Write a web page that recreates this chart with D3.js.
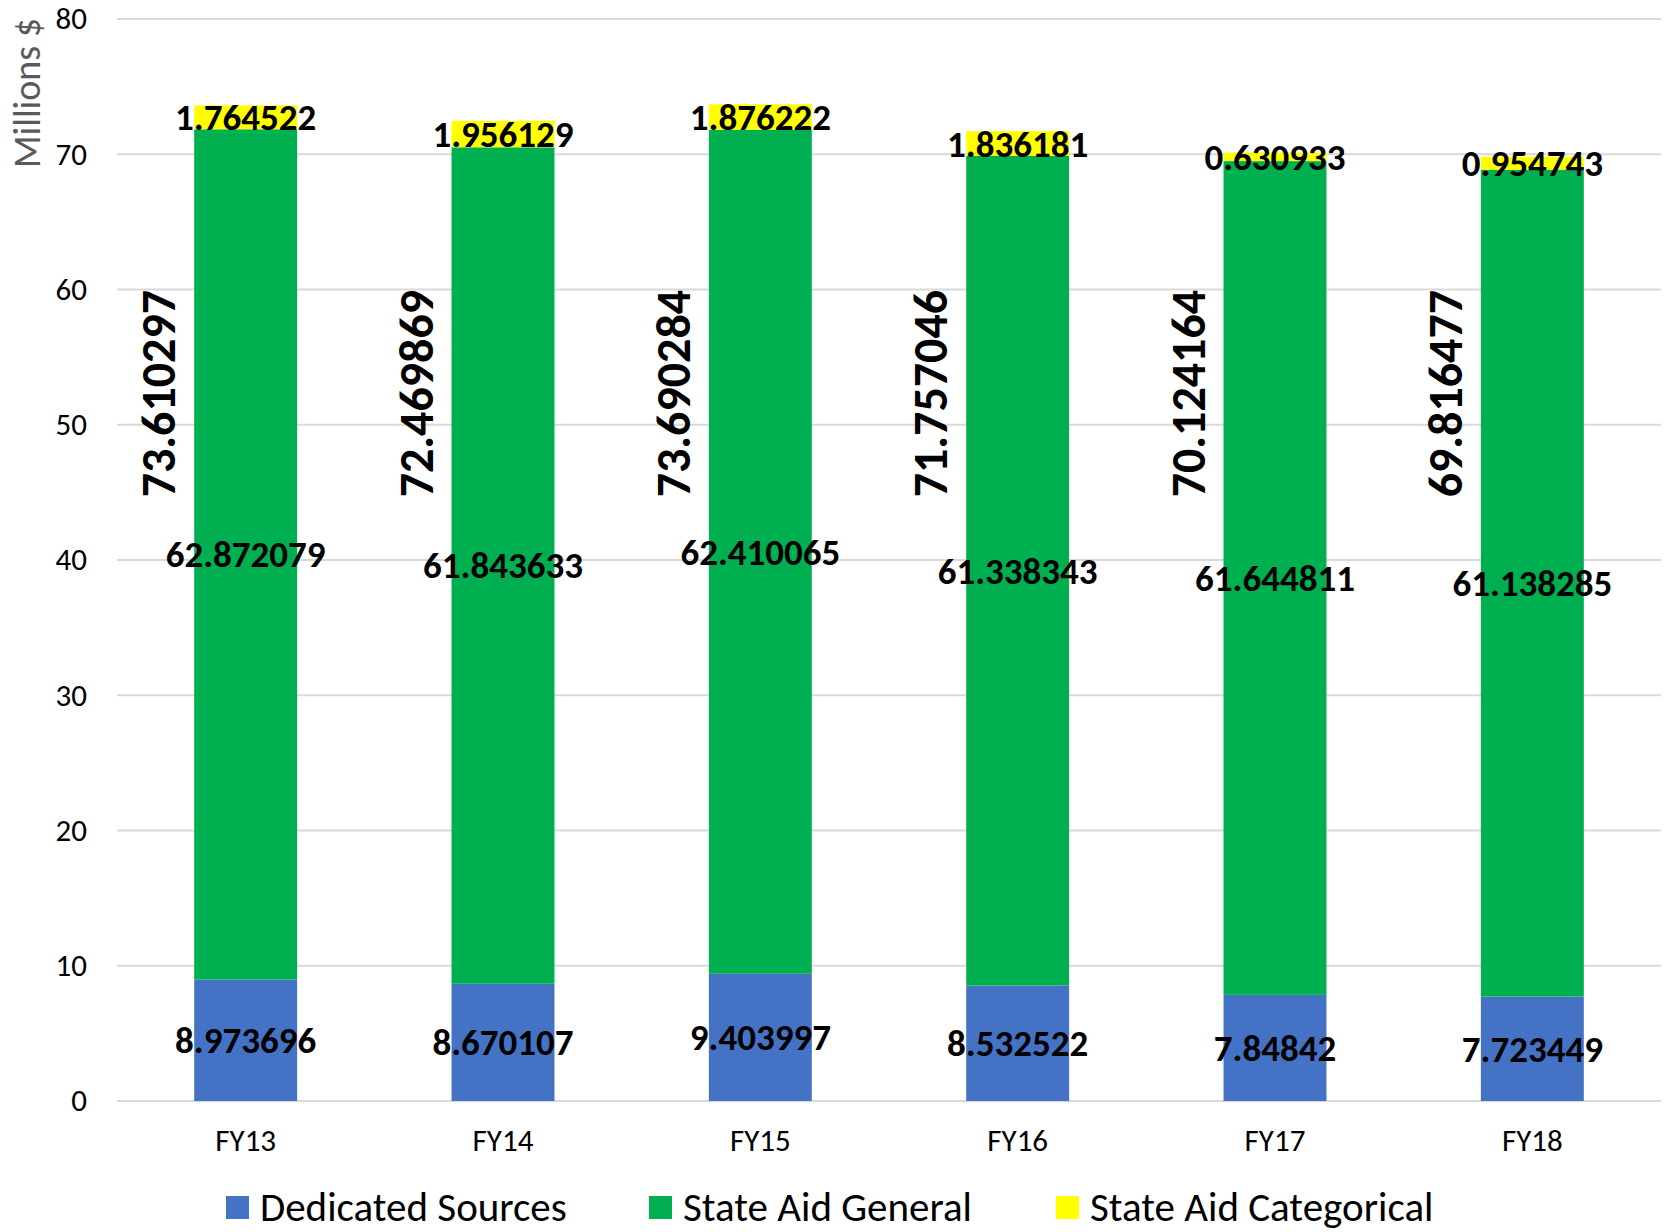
<!DOCTYPE html>
<html>
<head>
<meta charset="utf-8">
<script src="https://cdn.jsdelivr.net/npm/d3@7"></script>
<style>
  body { margin: 0; background: #fff; }
  text { font-family: Carlito, Lato, "Open Sans", sans-serif; }
</style>
</head>
<body>
<div id="chart"></div>
<script>
// chart data
var years = ["FY13", "FY14", "FY15", "FY16", "FY17", "FY18"];
var dedicated = [8.973696, 8.670107, 9.403997, 8.532522, 7.84842, 7.723449];
var general = [62.872079, 61.843633, 62.410065, 61.338343, 61.644811, 61.138285];
var categorical = [1.764522, 1.956129, 1.876222, 1.836181, 0.630933, 0.954743];
var totals = [73.610297, 72.469869, 73.690284, 71.757046, 70.124164, 69.816477];
var seriesNames = ["Dedicated Sources", "State Aid General", "State Aid Categorical"];
var yTicks = [0, 10, 20, 30, 40, 50, 60, 70, 80];

var colors = ["#4472C4", "#00B050", "#FFFF00"];

var svgWidth = 1669;
var svgHeight = 1232;
var margin = { top: 19, bottom: 131, left: 117, right: 8 };
var chartWidth = svgWidth - margin.left - margin.right;
var chartHeight = svgHeight - margin.top - margin.bottom;

var svg = d3.select("#chart")
  .append("svg")
  .attr("width", svgWidth)
  .attr("height", svgHeight);

var chartGroup = svg.append("g")
  .attr("transform", `translate(${margin.left}, ${margin.top})`);

var xScale = d3.scaleBand()
  .domain(years)
  .range([0, chartWidth])
  .paddingInner(0.6)
  .paddingOuter(0.3);

var yScale = d3.scaleLinear()
  .domain([0, 80])
  .range([chartHeight, 0]);

// gridlines
chartGroup.selectAll(".grid")
  .data(yTicks)
  .enter()
  .append("line")
  .attr("x1", 0)
  .attr("x2", chartWidth)
  .attr("y1", d => yScale(d))
  .attr("y2", d => yScale(d))
  .attr("stroke", "#D9D9D9")
  .attr("stroke-width", 2);

// y axis labels
var yAxis = d3.axisLeft(yScale).tickValues(yTicks).tickSize(0).tickPadding(30);
var yAxisG = chartGroup.append("g").call(yAxis);
yAxisG.select(".domain").remove();
yAxisG.selectAll("text")
  .attr("font-size", "31px")
  .attr("fill", "#000")
  .style("font-family", "Carlito, Lato, sans-serif");

// x axis labels
var xAxis = d3.axisBottom(xScale).tickSize(0).tickPadding(28);
var xAxisG = chartGroup.append("g")
  .attr("transform", `translate(0, ${chartHeight})`)
  .call(xAxis);
xAxisG.select(".domain").remove();
xAxisG.selectAll("text")
  .attr("font-size", "31px")
  .attr("fill", "#000")
  .style("font-family", "Carlito, Lato, sans-serif");

// build stacked data
var rows = years.map(function(y, i) {
  return { year: y, ded: dedicated[i], gen: general[i], cat: categorical[i], total: totals[i] };
});
var stack = d3.stack().keys(["ded", "gen", "cat"]);
var layers = stack(rows);

var layerGroups = chartGroup.selectAll(".layer")
  .data(layers)
  .enter()
  .append("g")
  .attr("fill", (d, i) => colors[i]);

layerGroups.selectAll("rect")
  .data(d => d)
  .enter()
  .append("rect")
  .attr("x", d => xScale(d.data.year))
  .attr("y", d => yScale(d[1]))
  .attr("width", xScale.bandwidth())
  .attr("height", d => yScale(d[0]) - yScale(d[1]));

// segment labels
layers.forEach(function(layer) {
  chartGroup.selectAll(".lbl-" + layer.key)
    .data(layer)
    .enter()
    .append("text")
    .attr("x", d => xScale(d.data.year) + xScale.bandwidth() / 2)
    .attr("y", d => yScale((d[0] + d[1]) / 2))
    .attr("dy", "0.35em")
    .attr("text-anchor", "middle")
    .attr("font-size", "37px")
    .attr("font-weight", "bold")
    .attr("fill", "#000")
    .text(d => d.data[layer.key]);
});

// total labels, rotated beside each bar
chartGroup.selectAll(".total")
  .data(rows)
  .enter()
  .append("text")
  .attr("transform", d => `translate(${xScale(d.year) + xScale.bandwidth() / 2 - 87}, ${yScale(52.3)}) rotate(-90)`)
  .attr("dy", "0.35em")
  .attr("text-anchor", "middle")
  .attr("font-size", "48px")
  .attr("font-weight", "bold")
  .attr("fill", "#000")
  .text(d => d.total);

// y axis title
svg.append("text")
  .attr("transform", "translate(27, 93) rotate(-90)")
  .attr("dy", "0.35em")
  .attr("text-anchor", "middle")
  .attr("font-size", "38px")
  .attr("fill", "#595959")
  .text("Millions $");

// legend
var legendX = [226, 649, 1056];
var legend = svg.selectAll(".legend")
  .data(seriesNames)
  .enter()
  .append("g")
  .attr("transform", (d, i) => `translate(${legendX[i]}, 1207)`);

legend.append("rect")
  .attr("x", 0)
  .attr("y", -11)
  .attr("width", 23)
  .attr("height", 23)
  .attr("fill", (d, i) => colors[i]);

legend.append("text")
  .attr("x", 34)
  .attr("y", 0)
  .attr("dy", "0.35em")
  .attr("font-size", "41px")
  .attr("fill", "#000")
  .text(d => d);
</script>
</body>
</html>
